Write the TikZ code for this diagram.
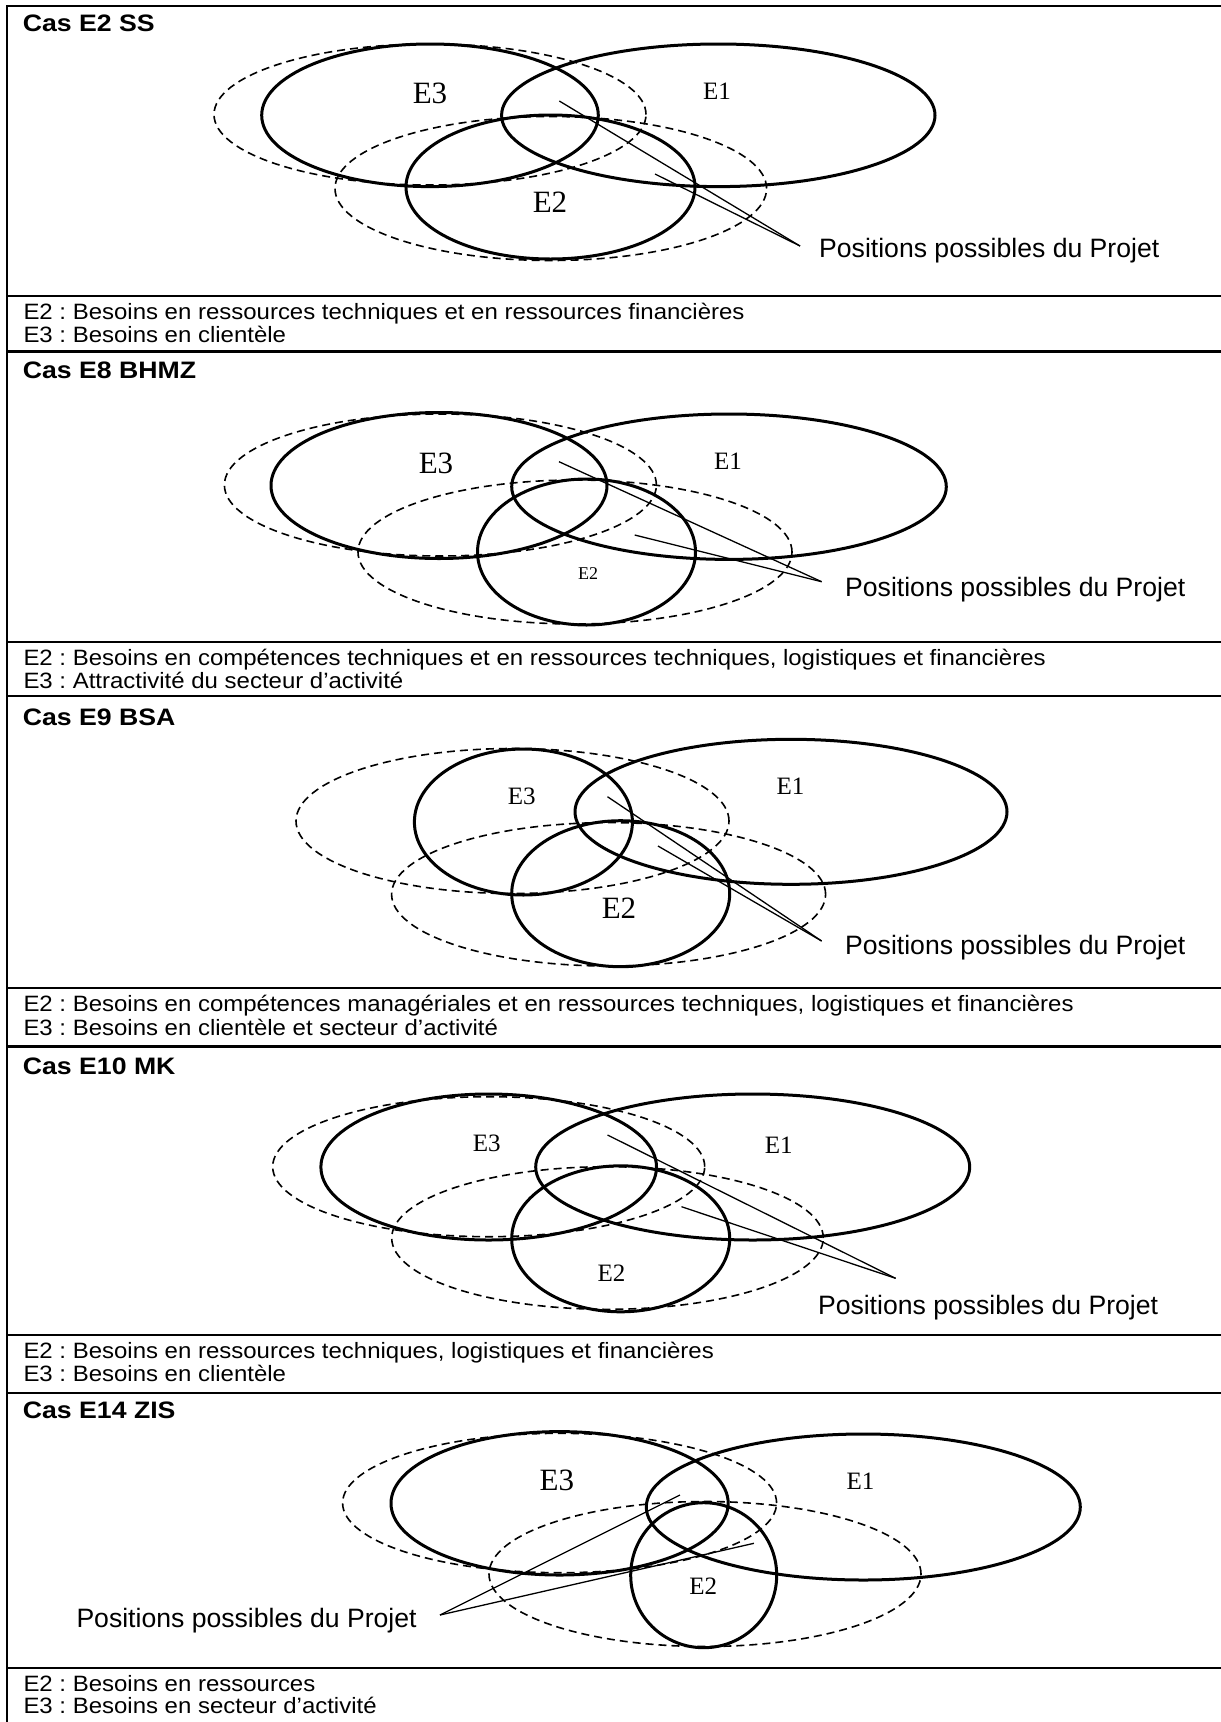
\documentclass[tikz,border=0pt]{standalone}
\usepackage{fontspec}
\setmainfont{Liberation Serif}
\setsansfont{Liberation Sans}
\newfontfamily\capfont{Liberation Sans}[FakeStretch=1.08]
\newfontfamily\headfont{Liberation Sans}[FakeStretch=1.12]
\frenchspacing
\begin{document}
\begin{tikzpicture}[x=1pt,y=-1pt,
  sol/.style={line width=3pt},
  dsh/.style={line width=1.6pt, dash pattern=on 8pt off 5pt},
  ptr/.style={line width=1.3pt},
  rulel/.style={line width=2.2pt},
  head/.style={font={\headfont\bfseries\fontsize{23.8}{28}\selectfont}, anchor=base west, inner sep=0pt},
  captxt/.style={font={\capfont\fontsize{22.2}{26}\selectfont}, anchor=base west, inner sep=0pt},
  postxt/.style={font={\sffamily\fontsize{26.6}{30}\selectfont}, anchor=base west, inner sep=0pt},
  lblbig/.style={font={\rmfamily\fontsize{31}{31}\selectfont}, inner sep=0pt},
  lblmid/.style={font={\rmfamily\fontsize{25}{25}\selectfont}, inner sep=0pt},
  lblsml/.style={font={\rmfamily\fontsize{18}{18}\selectfont}, inner sep=0pt},
]
\useasboundingbox (0,0) rectangle (1221,1722);
\fill[white] (0,0) rectangle (1221,1722);

% ---------- table rules ----------
\draw[rulel] (7.3,5) -- (7.3,1722);
\foreach \yy in {6,296,351.5,641.7,696,988.3,1046.5,1335,1393,1668.3}
  \draw[rulel] (6.2,\yy) -- (1221,\yy);

% ================= Panel 1 =================
\node[head] (h1) at (22.7,31) {Cas E2 SS};
\draw[dsh] (430,114.5) ellipse [x radius=216pt, y radius=70.5pt];
\draw[dsh] (550.8,188.5) ellipse [x radius=215.8pt, y radius=72pt];
\draw[sol] (430,115.3) ellipse [x radius=168.3pt, y radius=71.3pt];
\draw[sol] (718.3,115.3) ellipse [x radius=216.7pt, y radius=71.3pt];
\draw[sol] (550.5,187) ellipse [x radius=144.5pt, y radius=72pt];
\node[lblbig] (a3) at (430,93) {E3};
\node[lblmid] (a1) at (717,91) {E1};
\node[lblbig] (a2) at (550,202) {E2};
\coordinate (pa1) at (559.3,101);
\coordinate (pa2) at (655,174);
\coordinate (pae) at (800,246);
\draw[ptr] (pa1) -- (pae);
\draw[ptr] (pa2) -- (pae);
\node[postxt] (pta) at (819,257.8) {Positions possibles du Projet};
\node[captxt] (ca2) at (23.3,319.3) {E2 : Besoins en ressources techniques et en ressources financières};
\node[captxt] (ca3) at (23.3,342.7) {E3 : Besoins en clientèle};

% ================= Panel 2 =================
\node[head] (h2) at (22.7,378) {Cas E8 BHMZ};
\draw[dsh] (440.4,485) ellipse [x radius=216pt, y radius=71pt];
\draw[dsh] (575,552) ellipse [x radius=217pt, y radius=72pt];
\draw[sol] (439,485.5) ellipse [x radius=168pt, y radius=73pt];
\draw[sol] (729,486.7) ellipse [x radius=217.3pt, y radius=72.7pt];
\draw[sol] (586.5,552) ellipse [x radius=109pt, y radius=73pt];
\node[lblbig] (b3) at (436,463.3) {E3};
\node[lblmid] (b1) at (728,461.7) {E1};
\node[lblsml] (b2) at (588,573.3) {E2};
\coordinate (pb1) at (559,461.7);
\coordinate (pb2) at (634.7,535);
\coordinate (pbe) at (821.6,581.7);
\draw[ptr] (pb1) -- (pbe);
\draw[ptr] (pb2) -- (pbe);
\node[postxt] (ptb) at (845,596.2) {Positions possibles du Projet};
\node[captxt] (cb2) at (23.3,665) {E2 : Besoins en compétences techniques et en ressources techniques, logistiques et financières};
\node[captxt] (cb3) at (23.3,688.4) {E3 : Attractivité du secteur d’activité};

% ================= Panel 3 =================
\node[head] (h3) at (22.7,725) {Cas E9 BSA};
\draw[dsh] (512.5,821) ellipse [x radius=216.5pt, y radius=72.5pt];
\draw[dsh] (608.6,894.3) ellipse [x radius=217pt, y radius=71.7pt];
\draw[sol] (523.4,822) ellipse [x radius=109pt, y radius=73pt];
\draw[sol] (791,811.8) ellipse [x radius=216pt, y radius=72.5pt];
\draw[sol] (620.7,893.7) ellipse [x radius=109pt, y radius=73pt];
\node[lblmid] (c3) at (521.8,796.7) {E3};
\node[lblmid] (c1) at (790.5,786.7) {E1};
\node[lblbig] (c2) at (619,908.3) {E2};
\coordinate (pc1) at (607.5,796.7);
\coordinate (pc2) at (658,846);
\coordinate (pce) at (821.6,941);
\draw[ptr] (pc1) -- (pce);
\draw[ptr] (pc2) -- (pce);
\node[postxt] (ptc) at (845,954.5) {Positions possibles du Projet};
\node[captxt] (cc2) at (23.3,1011.6) {E2 : Besoins en compétences managériales et en ressources techniques, logistiques et financières};
\node[captxt] (cc3) at (23.3,1035) {E3 : Besoins en clientèle et secteur d’activité};

% ================= Panel 4 =================
\node[head] (h4) at (22.7,1074) {Cas E10 MK};
\draw[dsh] (488.7,1166.7) ellipse [x radius=216pt, y radius=70pt];
\draw[dsh] (607.5,1238) ellipse [x radius=215.8pt, y radius=71.3pt];
\draw[sol] (488.7,1167) ellipse [x radius=167.8pt, y radius=73pt];
\draw[sol] (752.7,1167) ellipse [x radius=217pt, y radius=73pt];
\draw[sol] (620.7,1238.8) ellipse [x radius=109pt, y radius=73pt];
\node[lblmid] (d3) at (486.8,1143.3) {E3};
\node[lblmid] (d1) at (778.8,1145) {E1};
\node[lblmid] (d2) at (611.4,1273.3) {E2};
\coordinate (pd1) at (607.5,1135);
\coordinate (pd2) at (681.5,1206.7);
\coordinate (pde) at (895.6,1278.3);
\draw[ptr] (pd1) -- (pde);
\draw[ptr] (pd2) -- (pde);
\node[postxt] (ptd) at (817.8,1314.5) {Positions possibles du Projet};
\node[captxt] (cd2) at (23.3,1358.3) {E2 : Besoins en ressources techniques, logistiques et financières};
\node[captxt] (cd3) at (23.3,1381.7) {E3 : Besoins en clientèle};

% ================= Panel 5 =================
\node[head] (h5) at (22.7,1418.5) {Cas E14 ZIS};
\draw[dsh] (559.6,1503) ellipse [x radius=217pt, y radius=69.7pt];
\draw[dsh] (705,1574) ellipse [x radius=216pt, y radius=72.5pt];
\draw[sol] (559.6,1503.3) ellipse [x radius=168.6pt, y radius=71.7pt];
\draw[sol] (863.3,1507) ellipse [x radius=217pt, y radius=73pt];
\draw[sol] (703.7,1575.2) ellipse [x radius=73pt, y radius=72.5pt];
\node[lblbig] (e3) at (556.9,1480) {E3};
\node[lblmid] (e1) at (860.6,1481.7) {E1};
\node[lblmid] (e2) at (703.3,1586.7) {E2};
\coordinate (pe1) at (680,1495);
\coordinate (pe2) at (753.9,1543.3);
\coordinate (pee) at (440,1615);
\draw[ptr] (pe1) -- (pee);
\draw[ptr] (pe2) -- (pee);
\node[postxt] (pte) at (76.3,1627.8) {Positions possibles du Projet};
\node[captxt] (ce2) at (23.3,1691) {E2 : Besoins en ressources};
\node[captxt] (ce3) at (23.3,1713.8) {E3 : Besoins en secteur d’activité};
\end{tikzpicture}
\end{document}
